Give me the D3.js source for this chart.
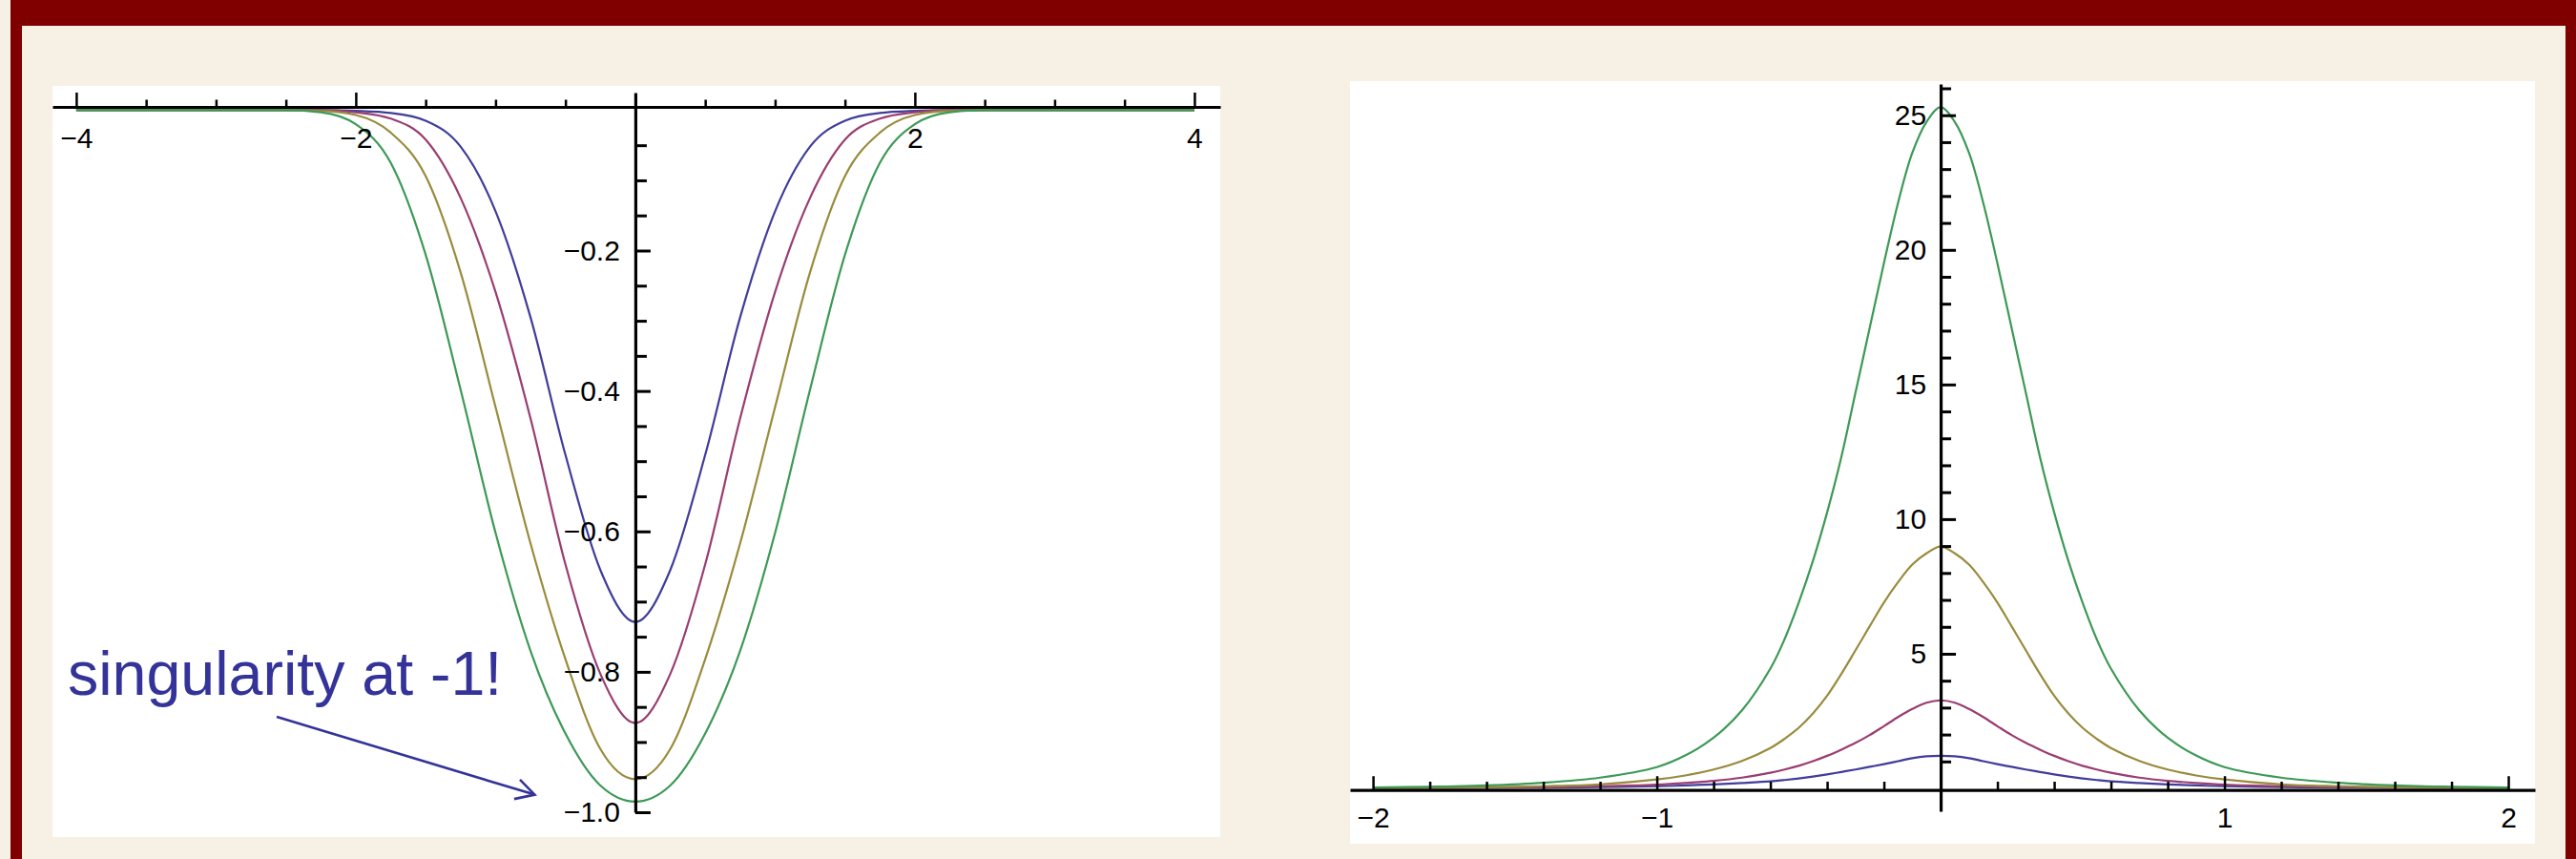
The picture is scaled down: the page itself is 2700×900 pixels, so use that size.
<!DOCTYPE html>
<html>
<head>
<meta charset="utf-8">
<script src="https://cdn.jsdelivr.net/npm/d3@7"></script>
<style>
  html, body { margin: 0; padding: 0; background: #f7f0e4; }
  svg { display: block; }
  .tick text { font-family: "Liberation Sans", Arial, sans-serif; font-size: 30px; fill: #000; }
</style>
</head>
<body>
<svg id="chart" width="2700" height="900"></svg>
<script>
// ---- Left plot: four curves dipping toward -1 ----
const leftX = [-4, -3.5, -3, -2.75, -2.5, -2.25, -2, -1.75, -1.5, -1.25, -1, -0.75, -0.5, -0.25, 0,
               0.25, 0.5, 0.75, 1, 1.25, 1.5, 1.75, 2, 2.25, 2.5, 2.75, 3, 3.5, 4];
const leftBlue    = [0, 0, 0, 0, 0, 0, -0.001, -0.004, -0.015, -0.052, -0.144, -0.295, -0.491, -0.655, -0.729,
                     -0.655, -0.491, -0.295, -0.144, -0.052, -0.015, -0.004, -0.001, 0, 0, 0, 0, 0, 0];
const leftMagenta = [0, 0, 0, 0, 0, 0, -0.003, -0.012, -0.042, -0.125, -0.259, -0.439, -0.647, -0.803, -0.873,
                     -0.803, -0.647, -0.439, -0.259, -0.125, -0.042, -0.012, -0.003, 0, 0, 0, 0, 0, 0];
const leftOlive   = [0, 0, 0, 0, 0, -0.001, -0.007, -0.032, -0.094, -0.231, -0.423, -0.617, -0.782, -0.910, -0.953,
                     -0.910, -0.782, -0.617, -0.423, -0.231, -0.094, -0.032, -0.007, -0.001, 0, 0, 0, 0, 0];
const leftGreen   = [0, 0, 0, 0, 0, -0.003, -0.020, -0.075, -0.206, -0.398, -0.602, -0.770, -0.888, -0.962, -0.985,
                     -0.962, -0.888, -0.770, -0.602, -0.398, -0.206, -0.075, -0.020, -0.003, 0, 0, 0, 0, 0];
const leftXTicks = [-4, -2, 2, 4];
const leftXTickLabels = ["\u22124", "\u22122", "2", "4"];
const leftXMinor = [-3.5, -3, -2.5, -1.5, -1, -0.5, 0.5, 1, 1.5, 2.5, 3, 3.5];
const leftYTicks = [-0.2, -0.4, -0.6, -0.8, -1.0];
const leftYTickLabels = ["\u22120.2", "\u22120.4", "\u22120.6", "\u22120.8", "\u22121.0"];
const leftYMinor = [-0.05, -0.1, -0.15, -0.25, -0.3, -0.35, -0.45, -0.5, -0.55,
                    -0.65, -0.7, -0.75, -0.85, -0.9, -0.95];

// ---- Right plot: four peaks of growing height ----
const rightX = [-2, -1.8, -1.6, -1.4, -1.2, -1, -0.9, -0.8, -0.7, -0.6, -0.55, -0.5, -0.45, -0.4, -0.35, -0.3,
                -0.25, -0.2, -0.15, -0.1, -0.05, 0, 0.05, 0.1, 0.15, 0.2, 0.25, 0.3, 0.35, 0.4, 0.45, 0.5,
                0.55, 0.6, 0.7, 0.8, 0.9, 1, 1.2, 1.4, 1.6, 1.8, 2];
const rightBlue    = [0.01, 0.01, 0.02, 0.03, 0.05, 0.08, 0.11, 0.15, 0.20, 0.26, 0.31, 0.37, 0.44, 0.52, 0.61, 0.70,
                      0.80, 0.90, 1.01, 1.12, 1.19, 1.21, 1.19, 1.12, 1.01, 0.90, 0.80, 0.70, 0.61, 0.52, 0.44, 0.37,
                      0.31, 0.26, 0.20, 0.15, 0.11, 0.08, 0.05, 0.03, 0.02, 0.01, 0.01];
const rightMagenta = [0.01, 0.02, 0.03, 0.05, 0.08, 0.14, 0.20, 0.28, 0.40, 0.58, 0.70, 0.84, 1.01, 1.21, 1.44, 1.69,
                      1.98, 2.31, 2.65, 2.95, 3.18, 3.27, 3.18, 2.95, 2.65, 2.31, 1.98, 1.69, 1.44, 1.21, 1.01, 0.84,
                      0.70, 0.58, 0.40, 0.28, 0.20, 0.14, 0.08, 0.05, 0.03, 0.02, 0.01];
const rightOlive   = [0.01, 0.02, 0.04, 0.08, 0.15, 0.33, 0.48, 0.70, 1.02, 1.50, 1.84, 2.25, 2.78, 3.44, 4.25, 5.13,
                      6.02, 6.90, 7.66, 8.31, 8.73, 8.98, 8.73, 8.31, 7.66, 6.90, 6.02, 5.13, 4.25, 3.44, 2.78, 2.25,
                      1.84, 1.50, 1.02, 0.70, 0.48, 0.33, 0.15, 0.08, 0.04, 0.02, 0.01];
const rightGreen   = [0.03, 0.06, 0.11, 0.21, 0.40, 0.79, 1.22, 1.88, 2.9, 4.45, 5.54, 6.9, 8.45, 10.25, 12.3, 14.7,
                      17.1, 19.5, 21.75, 23.6, 24.75, 25.3, 24.75, 23.6, 21.75, 19.5, 17.1, 14.7, 12.3, 10.25, 8.45, 6.9,
                      5.54, 4.45, 2.9, 1.88, 1.22, 0.79, 0.40, 0.21, 0.11, 0.06, 0.03];
const rightXTicks = [-2, -1, 1, 2];
const rightXTickLabels = ["\u22122", "\u22121", "1", "2"];
const rightXMinor = [-1.8, -1.6, -1.4, -1.2, -0.8, -0.6, -0.4, -0.2, 0.2, 0.4, 0.6, 0.8, 1.2, 1.4, 1.6, 1.8];
const rightYTicks = [5, 10, 15, 20, 25];
const rightYTickLabels = ["5", "10", "15", "20", "25"];
const rightYMinor = [1, 2, 3, 4, 6, 7, 8, 9, 11, 12, 13, 14, 16, 17, 18, 19, 21, 22, 23, 24, 26];

// Default plot palette (blue, magenta, olive, green)
const seriesColors = ["#3f3d99", "#993d71", "#998b3d", "#3d9956"];

const annotationText = "singularity at -1!";

// ---------------------------------------------------------------
const svg = d3.select("#chart");
const maroon = "#800000";
const cream = "#f7f0e4";

// Slide frame
svg.append("rect").attr("x", 0).attr("y", 0).attr("width", 2700).attr("height", 900).attr("fill", cream);
svg.append("rect").attr("x", 11).attr("y", 0).attr("width", 2689).attr("height", 27).attr("fill", maroon);
svg.append("rect").attr("x", 11).attr("y", 0).attr("width", 12).attr("height", 900).attr("fill", maroon);
svg.append("rect").attr("x", 2689).attr("y", 0).attr("width", 11).attr("height", 900).attr("fill", maroon);

function drawPanel(cfg) {
  const g = svg.append("g");
  g.append("rect")
    .attr("x", cfg.box[0]).attr("y", cfg.box[1])
    .attr("width", cfg.box[2] - cfg.box[0]).attr("height", cfg.box[3] - cfg.box[1])
    .attr("fill", "#ffffff");

  const line = d3.line()
    .x(d => cfg.x(d[0]))
    .y(d => cfg.y(d[1]))
    .curve(cfg.curve);

  cfg.series.forEach((vals, i) => {
    g.append("path")
      .datum(cfg.xs.map((xv, j) => [xv, vals[j]]))
      .attr("d", line)
      .attr("fill", "none")
      .attr("stroke", seriesColors[i])
      .attr("stroke-width", 2.2)
      .attr("stroke-linejoin", "round");
  });

  const axisY0 = cfg.y(0) + cfg.xAxisShift;
  const x0 = cfg.x(0);

  // horizontal axis, minor ticks
  g.append("g")
    .attr("transform", `translate(0,${axisY0})`)
    .call(d3.axisBottom(cfg.x).tickValues(cfg.xMinor).tickSize(-cfg.xMinorLen).tickSizeOuter(0).tickFormat(""))
    .call(a => a.select(".domain").remove())
    .call(a => a.selectAll(".tick line").attr("stroke", "#000").attr("stroke-width", 2.5));

  // horizontal axis, major ticks and labels
  g.append("g")
    .attr("transform", `translate(0,${axisY0})`)
    .call(d3.axisBottom(cfg.x).tickValues(cfg.xTicks).tickSize(-cfg.xMajorLen).tickSizeOuter(0)
      .tickPadding(cfg.xPad).tickFormat((d, i) => cfg.xLabels[i]))
    .call(a => a.select(".domain").attr("stroke", "#000").attr("stroke-width", 3.2))
    .call(a => a.selectAll(".tick line").attr("stroke", "#000").attr("stroke-width", 2.5));

  // vertical axis, minor ticks
  g.append("g")
    .attr("transform", `translate(${x0},0)`)
    .call(d3.axisLeft(cfg.y).tickValues(cfg.yMinor).tickSize(-cfg.yMinorLen).tickSizeOuter(0).tickFormat(""))
    .call(a => a.select(".domain").remove())
    .call(a => a.selectAll(".tick line").attr("stroke", "#000").attr("stroke-width", 3));

  // vertical axis, major ticks and labels
  g.append("g")
    .attr("transform", `translate(${x0},0)`)
    .call(d3.axisLeft(cfg.y).tickValues(cfg.yTicks).tickSize(-cfg.yMajorLen).tickSizeOuter(0)
      .tickPadding(cfg.yPad).tickFormat((d, i) => cfg.yLabels[i]))
    .call(a => a.select(".domain").attr("stroke", "#000").attr("stroke-width", 3.2))
    .call(a => a.selectAll(".tick line").attr("stroke", "#000").attr("stroke-width", 3));

  g.selectAll(".tick text").attr("font-family", null).attr("font-size", null);
  return g;
}

// Left panel scales
const xL = d3.scaleLinear().domain([-4.17, 4.185]).range([55, 1279]);
const yL = d3.scaleLinear().domain([0.025, -1.0]).range([97, 851]);

drawPanel({
  box: [55, 90, 1279, 877],
  x: xL, y: yL, xs: leftX,
  series: [leftBlue, leftMagenta, leftOlive, leftGreen],
  curve: d3.curveMonotoneX,
  xTicks: leftXTicks, xLabels: leftXTickLabels, xMinor: leftXMinor,
  yTicks: leftYTicks, yLabels: leftYTickLabels, yMinor: leftYMinor,
  xMajorLen: 15, xMinorLen: 7.5, yMajorLen: 16, yMinorLen: 12,
  xPad: 22, yPad: 16, xAxisShift: -3.4
});

// Right panel scales
const xR = d3.scaleLinear().domain([-2.081, 2.094]).range([1415, 2657]);
const yR = d3.scaleLinear().domain([26.16, -0.85]).range([88, 850]);

drawPanel({
  box: [1415, 85, 2657, 884],
  x: xR, y: yR, xs: rightX,
  series: [rightBlue, rightMagenta, rightOlive, rightGreen],
  curve: d3.curveCatmullRom.alpha(0.5),
  xTicks: rightXTicks, xLabels: rightXTickLabels, xMinor: rightXMinor,
  yTicks: rightYTicks, yLabels: rightYTickLabels, yMinor: rightYMinor,
  xMajorLen: 14.5, xMinorLen: 8.7, yMajorLen: 16, yMinorLen: 11,
  xPad: 18, yPad: 15, xAxisShift: 1.7
});

// Annotation pointing at the deepest minimum of the left plot
const noteColor = "#333399";
const ann = svg.append("g");
ann.append("text")
  .attr("x", 71).attr("y", 728)
  .attr("font-family", "'Liberation Sans', Arial, sans-serif")
  .attr("font-size", 64.5)
  .attr("fill", noteColor)
  .text(annotationText);

const tip = [xL(-0.72), yL(-0.975)];
const tail = [290, 751];
const ang = Math.atan2(tip[1] - tail[1], tip[0] - tail[0]);
const headLen = 22, headSpread = 0.5;
ann.append("path")
  .attr("d", d3.line()([tail, tip]))
  .attr("stroke", noteColor).attr("stroke-width", 2.6).attr("fill", "none");
ann.append("path")
  .attr("d", d3.line()([
    [tip[0] - headLen * Math.cos(ang - headSpread), tip[1] - headLen * Math.sin(ang - headSpread)],
    tip,
    [tip[0] - headLen * Math.cos(ang + headSpread), tip[1] - headLen * Math.sin(ang + headSpread)]
  ]))
  .attr("stroke", noteColor).attr("stroke-width", 2.6).attr("fill", "none")
  .attr("stroke-linejoin", "miter");
</script>
</body>
</html>
